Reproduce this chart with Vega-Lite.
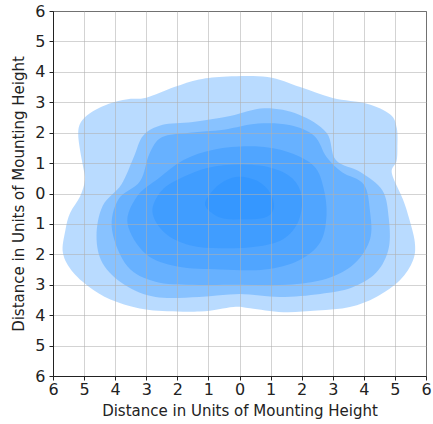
{
  "$schema": "https://vega.github.io/schema/vega-lite/v6.json",
  "width": 373,
  "height": 365,
  "autosize": "none",
  "padding": {"left": 53, "top": 11, "right": 7, "bottom": 48},
  "background": "white",
  "config": {"view": {"stroke": "#222", "strokeWidth": 1}, "font": "DejaVu Sans"},
  "datasets": {
    "contours": [
      {"level":1,"i":0,"x":-5.19,"y":1.99},{"level":1,"i":1,"x":-5.1,"y":2.35},{"level":1,"i":2,"x":-4.8,"y":2.65},{"level":1,"i":3,"x":-4.2,"y":2.95},{"level":1,"i":4,"x":-3.6,"y":3.1},{"level":1,"i":5,"x":-3.0,"y":3.15},{"level":1,"i":6,"x":-2.1,"y":3.5},{"level":1,"i":7,"x":-1.3,"y":3.75},{"level":1,"i":8,"x":-0.4,"y":3.85},{"level":1,"i":9,"x":0.9,"y":3.83},{"level":1,"i":10,"x":1.95,"y":3.5},{"level":1,"i":11,"x":3.0,"y":3.14},{"level":1,"i":12,"x":4.1,"y":2.95},{"level":1,"i":13,"x":4.85,"y":2.6},{"level":1,"i":14,"x":5.06,"y":2.15},{"level":1,"i":15,"x":5.08,"y":1.5},{"level":1,"i":16,"x":5.05,"y":1.05},{"level":1,"i":17,"x":4.9,"y":0.67},{"level":1,"i":18,"x":5.26,"y":-0.2},{"level":1,"i":19,"x":5.45,"y":-0.8},{"level":1,"i":20,"x":5.64,"y":-1.6},{"level":1,"i":21,"x":5.58,"y":-2.2},{"level":1,"i":22,"x":5.16,"y":-2.85},{"level":1,"i":23,"x":4.4,"y":-3.4},{"level":1,"i":24,"x":3.55,"y":-3.73},{"level":1,"i":25,"x":2.5,"y":-3.85},{"level":1,"i":26,"x":1.4,"y":-3.9},{"level":1,"i":27,"x":0.34,"y":-3.77},{"level":1,"i":28,"x":-0.2,"y":-3.73},{"level":1,"i":29,"x":-1.27,"y":-3.88},{"level":1,"i":30,"x":-2.9,"y":-3.83},{"level":1,"i":31,"x":-3.94,"y":-3.57},{"level":1,"i":32,"x":-4.7,"y":-3.17},{"level":1,"i":33,"x":-5.35,"y":-2.6},{"level":1,"i":34,"x":-5.68,"y":-1.96},{"level":1,"i":35,"x":-5.6,"y":-1.2},{"level":1,"i":36,"x":-5.45,"y":-0.64},{"level":1,"i":37,"x":-5.13,"y":-0.1},{"level":1,"i":38,"x":-4.97,"y":0.44},{"level":1,"i":39,"x":-5.03,"y":0.87},{"level":1,"i":40,"x":-5.13,"y":1.43},

      {"level":2,"i":0,"x":-4.6,"y":-1.4},{"level":2,"i":1,"x":-4.4,"y":-0.4},{"level":2,"i":2,"x":-3.8,"y":0.3},{"level":2,"i":3,"x":-3.4,"y":1.2},{"level":2,"i":4,"x":-3.1,"y":1.9},{"level":2,"i":5,"x":-2.5,"y":2.25},{"level":2,"i":6,"x":-1.5,"y":2.35},{"level":2,"i":7,"x":-0.3,"y":2.55},{"level":2,"i":8,"x":0.8,"y":2.8},{"level":2,"i":9,"x":1.9,"y":2.6},{"level":2,"i":10,"x":2.8,"y":2.0},{"level":2,"i":11,"x":3.1,"y":1.1},{"level":2,"i":12,"x":3.9,"y":0.7},{"level":2,"i":13,"x":4.6,"y":0.1},{"level":2,"i":14,"x":4.8,"y":-0.8},{"level":2,"i":15,"x":4.8,"y":-1.8},{"level":2,"i":16,"x":4.4,"y":-2.6},{"level":2,"i":17,"x":3.6,"y":-3.1},{"level":2,"i":18,"x":2.6,"y":-3.3},{"level":2,"i":19,"x":1.3,"y":-3.4},{"level":2,"i":20,"x":0.0,"y":-3.3},{"level":2,"i":21,"x":-1.3,"y":-3.4},{"level":2,"i":22,"x":-2.7,"y":-3.4},{"level":2,"i":23,"x":-3.7,"y":-3.0},{"level":2,"i":24,"x":-4.4,"y":-2.3},

      {"level":3,"i":0,"x":-4.1,"y":-1.2},{"level":3,"i":1,"x":-3.9,"y":-0.2},{"level":3,"i":2,"x":-3.2,"y":0.4},{"level":3,"i":3,"x":-2.9,"y":1.3},{"level":3,"i":4,"x":-2.5,"y":1.85},{"level":3,"i":5,"x":-1.6,"y":2.0},{"level":3,"i":6,"x":-0.5,"y":2.1},{"level":3,"i":7,"x":0.6,"y":2.3},{"level":3,"i":8,"x":1.6,"y":2.25},{"level":3,"i":9,"x":2.4,"y":1.9},{"level":3,"i":10,"x":2.8,"y":1.2},{"level":3,"i":11,"x":3.3,"y":0.7},{"level":3,"i":12,"x":4.0,"y":0.3},{"level":3,"i":13,"x":4.2,"y":-0.6},{"level":3,"i":14,"x":4.2,"y":-1.5},{"level":3,"i":15,"x":3.7,"y":-2.3},{"level":3,"i":16,"x":2.8,"y":-2.8},{"level":3,"i":17,"x":1.5,"y":-3.0},{"level":3,"i":18,"x":0.0,"y":-3.0},{"level":3,"i":19,"x":-1.5,"y":-3.0},{"level":3,"i":20,"x":-2.7,"y":-2.9},{"level":3,"i":21,"x":-3.6,"y":-2.4},

      {"level":4,"i":0,"x":-3.6,"y":-1.0},{"level":4,"i":1,"x":-3.3,"y":-0.1},{"level":4,"i":2,"x":-2.6,"y":0.5},{"level":4,"i":3,"x":-1.8,"y":1.1},{"level":4,"i":4,"x":-0.8,"y":1.45},{"level":4,"i":5,"x":0.5,"y":1.55},{"level":4,"i":6,"x":1.6,"y":1.35},{"level":4,"i":7,"x":2.4,"y":0.9},{"level":4,"i":8,"x":2.7,"y":0.2},{"level":4,"i":9,"x":2.8,"y":-0.7},{"level":4,"i":10,"x":2.6,"y":-1.6},{"level":4,"i":11,"x":1.9,"y":-2.2},{"level":4,"i":12,"x":0.8,"y":-2.5},{"level":4,"i":13,"x":-0.6,"y":-2.5},{"level":4,"i":14,"x":-2.0,"y":-2.4},{"level":4,"i":15,"x":-3.0,"y":-2.0},

      {"level":5,"i":0,"x":-2.8,"y":-0.6},{"level":5,"i":1,"x":-2.5,"y":0.1},{"level":5,"i":2,"x":-1.8,"y":0.55},{"level":5,"i":3,"x":-1.0,"y":0.85},{"level":5,"i":4,"x":0.0,"y":0.95},{"level":5,"i":5,"x":1.0,"y":0.85},{"level":5,"i":6,"x":1.7,"y":0.5},{"level":5,"i":7,"x":2.0,"y":-0.1},{"level":5,"i":8,"x":1.9,"y":-0.9},{"level":5,"i":9,"x":1.4,"y":-1.5},{"level":5,"i":10,"x":0.5,"y":-1.75},{"level":5,"i":11,"x":-0.6,"y":-1.8},{"level":5,"i":12,"x":-1.6,"y":-1.7},{"level":5,"i":13,"x":-2.4,"y":-1.3},

      {"level":6,"i":0,"x":-1.1,"y":-0.4},{"level":6,"i":1,"x":-0.9,"y":0.05},{"level":6,"i":2,"x":-0.5,"y":0.4},{"level":6,"i":3,"x":0.0,"y":0.55},{"level":6,"i":4,"x":0.6,"y":0.4},{"level":6,"i":5,"x":1.0,"y":0.0},{"level":6,"i":6,"x":1.1,"y":-0.5},{"level":6,"i":7,"x":0.8,"y":-0.8},{"level":6,"i":8,"x":0.1,"y":-0.85},{"level":6,"i":9,"x":-0.6,"y":-0.8}
    ]
  },
  "data": {"name": "contours"},
  "mark": {
    "type": "line",
    "interpolate": "cardinal-closed",
    "fill": "#1e8cff",
    "fillOpacity": 0.31,
    "stroke": null,
    "strokeWidth": 0,
    "clip": true
  },
  "encoding": {
    "x": {
      "field": "x", "type": "quantitative",
      "scale": {"domain": [-6, 6], "nice": false, "zero": false},
      "axis": {
        "title": "Distance in Units of Mounting Height",
        "values": [-6,-5,-4,-3,-2,-1,0,1,2,3,4,5,6],
        "labelExpr": "format(abs(datum.value), 'd')",
        "grid": true, "gridColor": "#b0b0b0", "gridOpacity": 0.7, "gridWidth": 0.8,
        "domainColor": "#222", "tickColor": "#222", "tickSize": 4,
        "labelFontSize": 16, "labelColor": "#222", "labelPadding": 1, "labelFlush": false,
        "titleFontSize": 15, "titleFontWeight": "normal", "titleColor": "#222", "titlePadding": 6, "titleLimit": 1000,
        "zindex": 1
      }
    },
    "y": {
      "field": "y", "type": "quantitative",
      "scale": {"domain": [-6, 6], "nice": false, "zero": false},
      "axis": {
        "title": "Distance in Units of Mounting Height",
        "values": [-6,-5,-4,-3,-2,-1,0,1,2,3,4,5,6],
        "labelExpr": "format(abs(datum.value), 'd')",
        "grid": true, "gridColor": "#b0b0b0", "gridOpacity": 0.7, "gridWidth": 0.8,
        "domainColor": "#222", "tickColor": "#222", "tickSize": 4,
        "labelFontSize": 16, "labelColor": "#222", "labelPadding": 4, "labelFlush": false,
        "titleFontSize": 15, "titleFontWeight": "normal", "titleColor": "#222", "titlePadding": 8, "titleLimit": 1000,
        "zindex": 1
      }
    },
    "detail": {"field": "level", "type": "nominal"},
    "order": {"field": "i", "type": "quantitative"}
  }
}
